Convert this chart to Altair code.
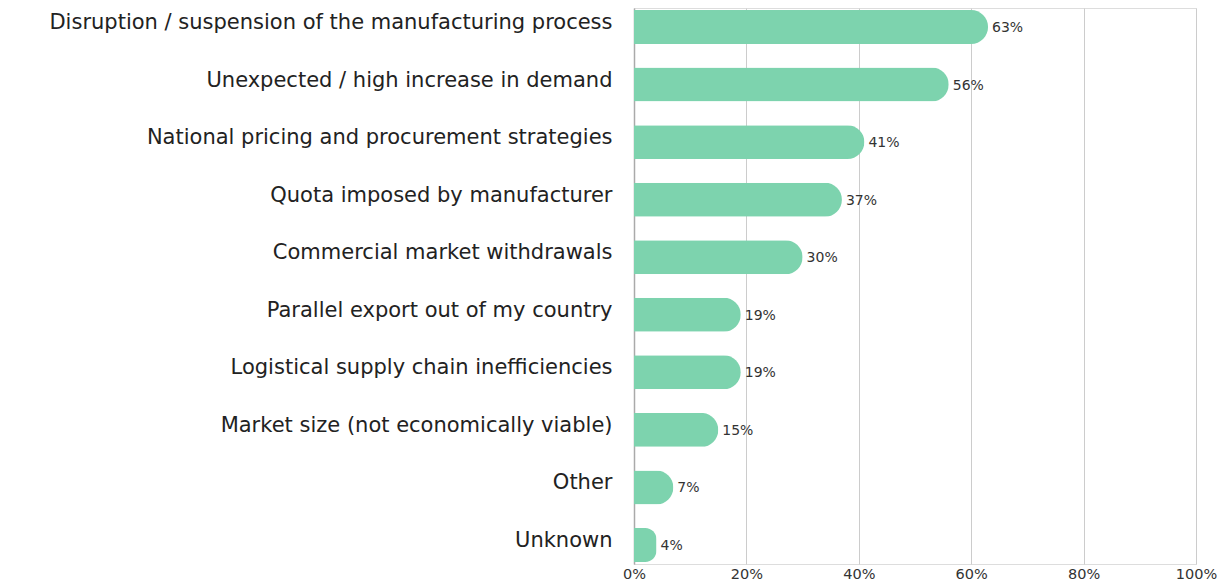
import altair as alt
import pandas as pd

categories = [
    "Disruption / suspension of the manufacturing process ",
    "Unexpected / high increase in demand",
    "National pricing and procurement strategies",
    "Quota imposed by manufacturer",
    "Commercial market withdrawals",
    "Parallel export out of my country",
    "Logistical supply chain inefficiencies",
    "Market size (not economically viable)",
    "Other",
    "Unknown",
]
values = [63, 56, 41, 37, 30, 19, 19, 15, 7, 4]
labels = [f"{v}%" for v in values]

df = pd.DataFrame({"cat": categories, "val": [v / 100 for v in values], "lab": labels})

FONT = "DejaVu Sans"

y = alt.Y(
    "cat:N",
    sort=categories,
    title=None,
    scale=alt.Scale(paddingInner=0.41, paddingOuter=0.035),
    axis=alt.Axis(
        labelFontSize=21,
        labelFont=FONT,
        labelColor="#222222",
        labelPadding=22,
        labelLimit=700,
        labelOffset=-4,
        ticks=False,
        domain=True,
        domainColor="#aaaaaa",
        domainWidth=1.5,
        grid=False,
    ),
)
x = alt.X(
    "val:Q",
    title=None,
    scale=alt.Scale(domain=[0, 1], nice=False),
    axis=alt.Axis(
        format="%",
        values=[0, 0.2, 0.4, 0.6, 0.8, 1.0],
        labelFontSize=14.5,
        labelFont=FONT,
        labelColor="#333333",
        labelPadding=3,
        labelFlush=False,
        ticks=False,
        domain=False,
        grid=True,
        gridColor="#cccccc",
        gridWidth=1,
    ),
)

bars = alt.Chart(df).mark_bar(color="#7DD3AE", cornerRadiusEnd=17).encode(x=x, y=y)
text = alt.Chart(df).mark_text(
    align="left", baseline="middle", dx=4, dy=1, fontSize=14, font=FONT, color="#333333"
).encode(x="val:Q", y=alt.Y("cat:N", sort=categories), text="lab:N")

chart = (
    (bars + text)
    .properties(
        width=562,
        height=556,
        autosize=alt.AutoSizeParams(type="none"),
        padding={"left": 626, "top": 0, "right": 21, "bottom": 30},
    )
    .configure_view(stroke=None)
    .configure(background="white")
)

chart.save("out.html", embed_options={"renderer": "svg", "actions": False})
